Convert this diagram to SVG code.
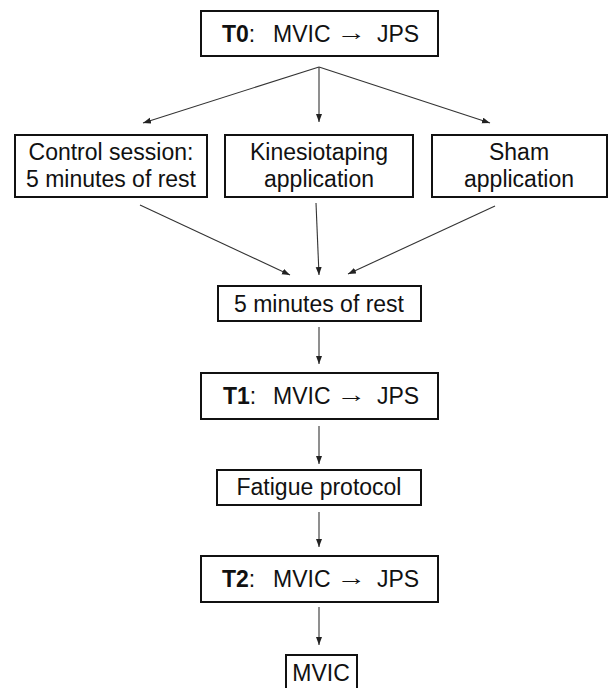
<svg xmlns="http://www.w3.org/2000/svg" width="616" height="688" viewBox="0 0 616 688">
  <style>
    .box { fill: #ffffff; stroke: #111111; stroke-width: 2; }
    .txt { font-family: "Liberation Sans", Arial, sans-serif; font-size: 23px; fill: #111111; }
    .mid { text-anchor: middle; }
    .bold { font-weight: bold; }
    .conn { stroke: #333333; stroke-width: 1.1; fill: none; marker-end: url(#head); }
  </style>
  <defs>
    <marker id="head" markerUnits="userSpaceOnUse" markerWidth="9" markerHeight="7" refX="8" refY="3" orient="auto">
      <path d="M0,0 L8,3 L0,6 z" fill="#222222"/>
    </marker>
  </defs>
  <rect width="616" height="688" fill="#ffffff"/>

  <!-- connectors -->
  <g id="connectors">
    <line class="conn" x1="319" y1="67" x2="143" y2="123"/>
    <line class="conn" x1="319" y1="67" x2="319" y2="122"/>
    <line class="conn" x1="319" y1="67" x2="490" y2="123"/>
    <line class="conn" x1="140" y1="205" x2="290" y2="275"/>
    <line class="conn" x1="316" y1="203" x2="319" y2="275"/>
    <line class="conn" x1="495" y1="206" x2="348" y2="274"/>
    <line class="conn" x1="319" y1="327" x2="319" y2="364"/>
    <line class="conn" x1="319" y1="426" x2="319" y2="464"/>
    <line class="conn" x1="319" y1="512" x2="319" y2="547"/>
    <line class="conn" x1="319" y1="607" x2="319" y2="645"/>
  </g>

  <!-- T0 measurement -->
  <g id="t0">
    <rect class="box" x="201" y="11" width="237" height="45"/>
    <text class="txt" x="222" y="42"><tspan class="bold">T0</tspan>:</text>
    <text class="txt" x="273" y="42">MVIC</text>
    <text class="txt" x="336" y="40" textLength="30" lengthAdjust="spacingAndGlyphs">→</text>
    <text class="txt" x="377" y="42">JPS</text>
  </g>

  <!-- three interventions -->
  <g id="control">
    <rect class="box" x="15" y="135" width="192" height="62"/>
    <text class="txt mid" x="111" y="160">Control session:</text>
    <text class="txt mid" x="111" y="187">5 minutes of rest</text>
  </g>
  <g id="kinesiotaping">
    <rect class="box" x="225" y="135" width="188" height="62"/>
    <text class="txt mid" x="319" y="160">Kinesiotaping</text>
    <text class="txt mid" x="319" y="187">application</text>
  </g>
  <g id="sham">
    <rect class="box" x="432" y="135" width="175" height="62"/>
    <text class="txt mid" x="519" y="160">Sham</text>
    <text class="txt mid" x="519" y="187">application</text>
  </g>

  <!-- rest -->
  <g id="rest">
    <rect class="box" x="218" y="286" width="203" height="35"/>
    <text class="txt mid" x="319" y="312">5 minutes of rest</text>
  </g>

  <!-- T1 measurement -->
  <g id="t1">
    <rect class="box" x="201" y="373" width="237" height="46"/>
    <text class="txt" x="223" y="404"><tspan class="bold">T1</tspan>:</text>
    <text class="txt" x="273" y="404">MVIC</text>
    <text class="txt" x="336" y="402" textLength="30" lengthAdjust="spacingAndGlyphs">→</text>
    <text class="txt" x="377" y="404">JPS</text>
  </g>

  <!-- fatigue -->
  <g id="fatigue">
    <rect class="box" x="217" y="470" width="204" height="35"/>
    <text class="txt mid" x="319" y="495">Fatigue protocol</text>
  </g>

  <!-- T2 measurement -->
  <g id="t2">
    <rect class="box" x="201" y="556" width="237" height="46"/>
    <text class="txt" x="222" y="587"><tspan class="bold">T2</tspan>:</text>
    <text class="txt" x="273" y="587">MVIC</text>
    <text class="txt" x="336" y="585" textLength="30" lengthAdjust="spacingAndGlyphs">→</text>
    <text class="txt" x="377" y="587">JPS</text>
  </g>

  <!-- final MVIC -->
  <g id="mvic">
    <rect class="box" x="286" y="655" width="71" height="40"/>
    <text class="txt mid" x="321" y="681">MVIC</text>
  </g>
</svg>
